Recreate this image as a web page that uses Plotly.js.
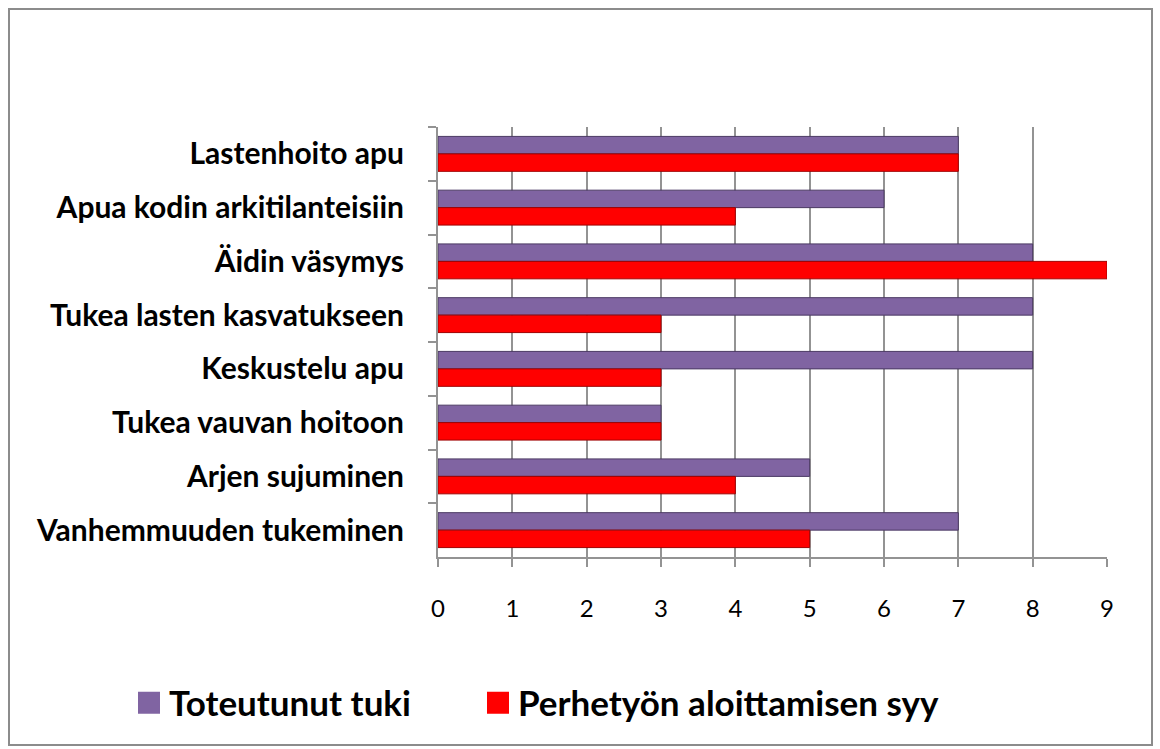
<!DOCTYPE html>
<html>
<head>
<meta charset="utf-8">
<script src="https://cdn.plot.ly/plotly-3.0.1.min.js"></script>
<style>
  html, body { margin: 0; padding: 0; background: #ffffff; }
  #chart { width: 1160px; height: 749px; }
</style>
</head>
<body>
<div id="chart"></div>
<script>
// Categories, top to bottom as shown
const categories = [
  "Lastenhoito apu",
  "Apua kodin arkitilanteisiin",
  "Äidin väsymys",
  "Tukea lasten kasvatukseen",
  "Keskustelu apu",
  "Tukea vauvan hoitoon",
  "Arjen sujuminen",
  "Vanhemmuuden tukeminen"
];
const seriesNames = ["Toteutunut tuki", "Perhetyön aloittamisen syy"];
const toteutunutTuki = [7, 6, 8, 8, 8, 3, 5, 7];
const aloittamisenSyy = [7, 4, 9, 3, 3, 3, 4, 5];
const xTickValues = [0, 1, 2, 3, 4, 5, 6, 7, 8, 9];

const W = 1160, H = 749;
const M = { l: 438, r: 53, t: 127, b: 192 };
const pw = W - M.l - M.r, ph = H - M.t - M.b;
const px = x => (x - M.l) / pw;
const py = y => (H - M.b - y) / ph;

const traces = [
  {
    type: "bar", orientation: "h", name: seriesNames[0], legend: "legend",
    y: categories, x: toteutunutTuki,
    marker: { color: "#8064A2", line: { color: "#4b3a63", width: 1 } }
  },
  {
    type: "bar", orientation: "h", name: seriesNames[1], legend: "legend2",
    y: categories, x: aloittamisenSyy,
    marker: { color: "#FF0000", line: { color: "#a00000", width: 1 } }
  }
];

const legendFont = { size: 35, family: "Lato, sans-serif", weight: "bold", color: "#000000" };

const layout = {
  width: W, height: H,
  margin: M,
  paper_bgcolor: "#ffffff",
  plot_bgcolor: "#ffffff",
  barmode: "group",
  bargap: 0.35,
  bargroupgap: 0,
  font: { family: "Lato, 'Open Sans', sans-serif", color: "#000000" },
  xaxis: {
    range: [0, 9],
    tickvals: xTickValues,
    ticktext: xTickValues.map(String),
    showgrid: true, gridcolor: "#939393", gridwidth: 2,
    zeroline: false,
    showline: true, linecolor: "#939393", linewidth: 2,
    ticks: "outside", ticklen: 8, tickcolor: "#939393", tickwidth: 2,
    ticklabelstandoff: 21,
    tickfont: { size: 24, family: "Lato, sans-serif", color: "#000000" },
    fixedrange: true
  },
  yaxis: {
    type: "category",
    autorange: "reversed",
    showgrid: false,
    showline: true, linecolor: "#939393", linewidth: 2,
    ticks: "outside", ticklen: 8, tickcolor: "#939393", tickwidth: 2,
    tickson: "boundaries",
    ticklabelstandoff: 26,
    tickfont: { size: 30, family: "Lato, sans-serif", weight: "bold", color: "#000000" },
    fixedrange: true
  },
  showlegend: true,
  legend: {
    orientation: "h",
    xref: "container", yref: "container",
    x: 129 / W, xanchor: "left",
    y: 1 - 703 / H, yanchor: "middle",
    font: legendFont,
    itemwidth: 30,
    bgcolor: "rgba(0,0,0,0)"
  },
  legend2: {
    orientation: "h",
    xref: "container", yref: "container",
    x: 478 / W, xanchor: "left",
    y: 1 - 703 / H, yanchor: "middle",
    font: legendFont,
    itemwidth: 30,
    bgcolor: "rgba(0,0,0,0)"
  },
  shapes: [
    {
      type: "rect", xref: "paper", yref: "paper",
      x0: px(9), x1: px(1152), y0: py(745), y1: py(9),
      line: { color: "#8c8c8c", width: 2 }, fillcolor: "rgba(0,0,0,0)",
      layer: "below"
    }
  ]
};

Plotly.newPlot("chart", traces, layout, { displayModeBar: false, staticPlot: true }).then(gd => {
  // enlarge the legend swatches to match the reference's square keys
  gd.querySelectorAll(".legendpoints path").forEach(p => {
    p.setAttribute("d", "M11,11H-11V-11H11Z");
    p.style.strokeWidth = "0";
  });
});
</script>
</body>
</html>
